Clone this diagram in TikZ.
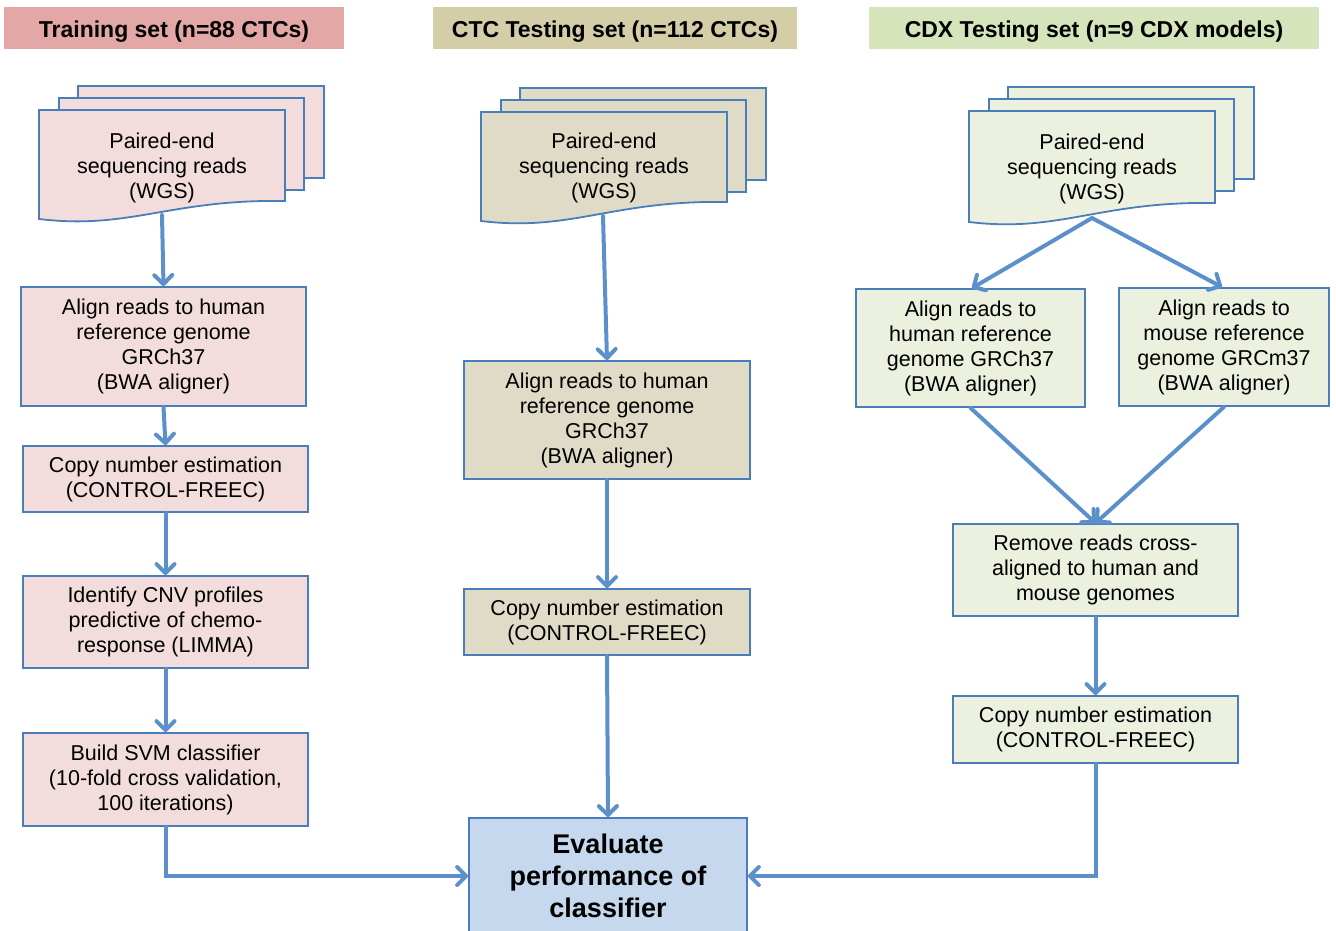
\documentclass[tikz,border=0pt]{standalone}
\usepackage{fontspec}
\setmainfont{Liberation Sans}
\usetikzlibrary{arrows.meta}
\definecolor{hdrA}{RGB}{227,168,166}
\definecolor{hdrB}{RGB}{212,206,168}
\definecolor{hdrC}{RGB}{214,228,188}
\definecolor{fillA}{RGB}{242,221,220}
\definecolor{fillB}{RGB}{223,219,198}
\definecolor{fillC}{RGB}{235,241,222}
\definecolor{fillE}{RGB}{198,216,238}
\definecolor{bord}{RGB}{74,126,187}
\definecolor{arr}{RGB}{92,144,203}
\tikzset{
  hdr/.style={minimum height=42pt, inner sep=0pt, font=\fontsize{23}{27}\selectfont\bfseries,
    execute at begin node={\rule{0pt}{23pt}}},
  procbox/.style={draw=bord, line width=1.8pt, inner sep=0pt, align=center, font=\fontsize{21.5}{25}\selectfont,
    execute at begin node={\rule{0pt}{24pt}}},
  doctext/.style={inner sep=0pt, align=center, font=\fontsize{21.5}{25}\selectfont},
  docline/.style={draw=bord, line width=1.8pt},
  conn/.style={draw=arr, line width=4pt, line cap=round,
    -{Straight Barb[length=9pt,width=18pt,line width=4pt,round]}},
}
\newcommand{\docstack}[5]{% #1 L, #2 T, #3 BL, #4 BR, #5 fill
  \path[docline, fill=#5] (#1+39,#2-24) rectangle (#1+285,#2+68);
  \path[docline, fill=#5] (#1+20,#2-12) rectangle (#1+265,#2+80);
  \path[docline, fill=#5] (#1,#2) -- (#1+246,#2) -- (#1+246,#4)
     .. controls (#1+131,#4-2) and (#1+91,#3+11) .. (#1,#3) -- cycle;
}
\begin{document}
\begin{tikzpicture}[x=1pt,y=-1pt]
\useasboundingbox (0,0) rectangle (1336,931);

% headers
\node[hdr, fill=hdrA, minimum width=340pt] (h1) at (174,28) {Training set (n=88 CTCs)};
\node[hdr, fill=hdrB, minimum width=364pt] (h2) at (615,28) {CTC Testing set (n=112 CTCs)};
\node[hdr, fill=hdrC, minimum width=450pt] (h3) at (1094,28) {CDX Testing set (n=9 CDX models)};

% document stacks
\docstack{39}{110}{219}{201}{fillA}
\docstack{481}{112}{221}{202}{fillB}
\docstack{969}{111}{222}{203}{fillC}
\node[doctext] (d1) at (162,168) {Paired-end\\sequencing reads\\(WGS)};
\node[doctext] (d2) at (604,168) {Paired-end\\sequencing reads\\(WGS)};
\node[doctext] (d3) at (1092,169) {Paired-end\\sequencing reads\\(WGS)};
\coordinate (d1b) at (162,215);
\coordinate (d2b) at (603,216);
\coordinate (d3b) at (1092,218);

% column 1
\node[procbox, fill=fillA, minimum width=285pt, minimum height=119pt] (c1a) at (163.5,346.5)
  {Align reads to human\\reference genome\\GRCh37\\(BWA aligner)};
\node[procbox, fill=fillA, minimum width=285pt, minimum height=66pt] (c1b) at (165.5,479)
  {Copy number estimation\\(CONTROL-FREEC)};
\node[procbox, fill=fillA, minimum width=285pt, minimum height=92pt] (c1c) at (165.5,622)
  {Identify CNV profiles\\predictive of chemo-\\response (LIMMA)};
\node[procbox, fill=fillA, minimum width=285pt, minimum height=93pt] (c1d) at (165.5,779.5)
  {Build SVM classifier\\(10-fold cross validation,\\100 iterations)};

% column 2
\node[procbox, fill=fillB, minimum width=286pt, minimum height=118pt] (c2a) at (607,420)
  {Align reads to human\\reference genome\\GRCh37\\(BWA aligner)};
\node[procbox, fill=fillB, minimum width=286pt, minimum height=66pt] (c2b) at (607,622)
  {Copy number estimation\\(CONTROL-FREEC)};

% evaluation
\node[procbox, fill=fillE, minimum width=278pt, minimum height=116pt,
      font=\fontsize{27}{32}\selectfont\bfseries,
      execute at begin node={\rule{0pt}{25pt}}] (ev) at (608,876)
  {Evaluate\\performance of\\classifier};

% column 3
\node[procbox, fill=fillC, minimum width=229pt, minimum height=118pt] (c3l) at (970.5,348)
  {Align reads to\\human reference\\genome GRCh37\\(BWA aligner)};
\node[procbox, fill=fillC, minimum width=210pt, minimum height=118pt] (c3r) at (1224,347)
  {Align reads to\\mouse reference\\genome GRCm37\\(BWA aligner)};
\node[procbox, fill=fillC, minimum width=285pt, minimum height=92pt] (c3m) at (1095.5,570)
  {Remove reads cross-\\aligned to human and\\mouse genomes};
\node[procbox, fill=fillC, minimum width=285pt, minimum height=67pt] (c3n) at (1095.5,729.5)
  {Copy number estimation\\(CONTROL-FREEC)};

% connectors
\draw[conn] (d1b) -- (c1a.north);
\draw[conn] (c1a.south) -- (c1b.north);
\draw[conn] (c1b.south) -- (c1c.north);
\draw[conn] (c1c.south) -- (c1d.north);
\draw[conn] (c1d.south) |- (ev.west);

\draw[conn] (d2b) -- (c2a.north);
\draw[conn] (c2a.south) -- (c2b.north);
\draw[conn] (c2b.south) -- (ev.north);

\draw[conn] (d3b) -- ([xshift=1.5pt]c3l.north);
\draw[conn] (d3b) -- ([xshift=-2pt]c3r.north);
\draw[conn] (c3l.south) -- (c3m.north);
\draw[conn] (c3r.south) -- (c3m.north);
\draw[conn] (c3m.south) -- (c3n.north);
\draw[conn] (c3n.south) |- (ev.east);
\end{tikzpicture}
\end{document}
